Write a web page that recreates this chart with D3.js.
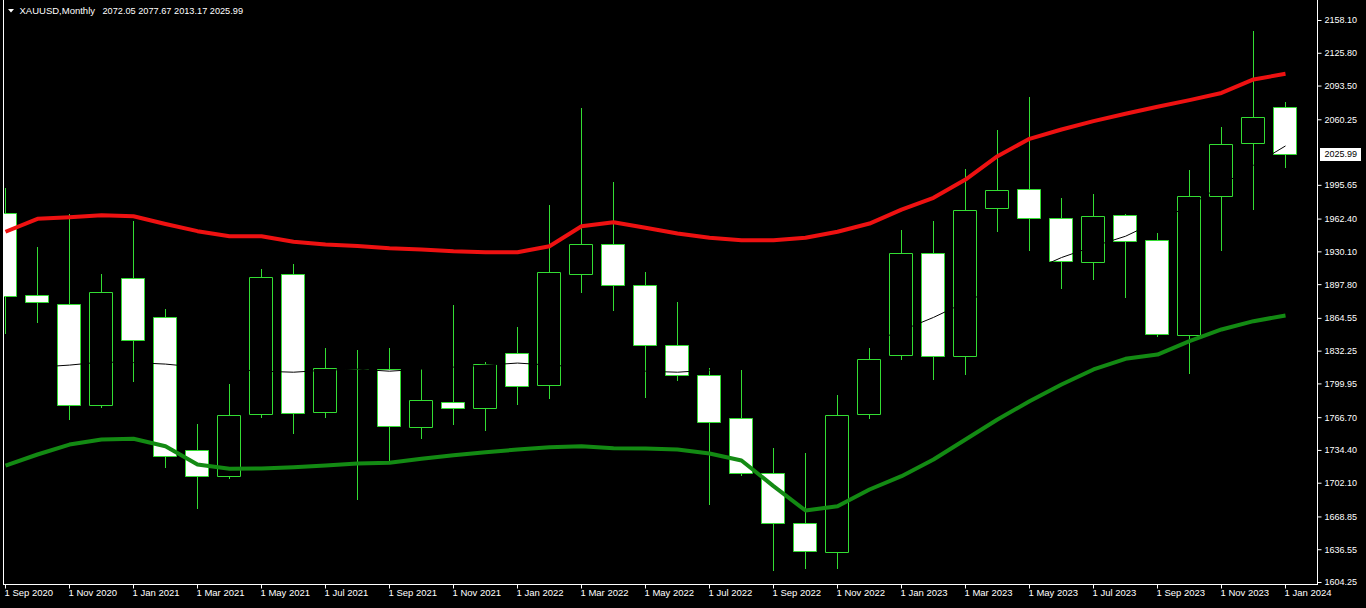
<!DOCTYPE html>
<html>
<head>
<meta charset="utf-8">
<script src="https://cdn.jsdelivr.net/npm/d3@7"></script>
<style>
html,body{margin:0;padding:0;background:#000;overflow:hidden;}
svg{display:block;}
</style>
</head>
<body>
<svg id="chart" width="1366" height="608"></svg>
<script>
// ---------- data ----------
const symbolTitle = "XAUUSD,Monthly";
const months = ["Sep 2020","Oct 2020","Nov 2020","Dec 2020","Jan 2021","Feb 2021","Mar 2021","Apr 2021","May 2021","Jun 2021","Jul 2021","Aug 2021","Sep 2021","Oct 2021","Nov 2021","Dec 2021","Jan 2022","Feb 2022","Mar 2022","Apr 2022","May 2022","Jun 2022","Jul 2022","Aug 2022","Sep 2022","Oct 2022","Nov 2022","Dec 2022","Jan 2023","Feb 2023","Mar 2023","Apr 2023","May 2023","Jun 2023","Jul 2023","Aug 2023","Sep 2023","Oct 2023","Nov 2023","Dec 2023","Jan 2024"];
const openP  = [1968.1,1886.6,1878.4,1778.2,1904.0,1865.6,1734.1,1709.2,1770.0,1908.0,1771.9,1814.3,1814.4,1757.2,1781.8,1775.9,1830.1,1798.6,1908.0,1937.5,1897.1,1838.0,1808.4,1766.1,1711.9,1662.6,1633.6,1770.3,1827.8,1928.7,1826.8,1973.0,1991.1,1963.2,1919.4,1966.1,1940.8,1847.5,1984.5,2037.1,2072.05];
const highP  = [1992.6,1934.2,1967.1,1907.3,1959.8,1872.8,1760.4,1798.9,1913.2,1917.2,1835.1,1832.4,1834.4,1814.4,1877.7,1821.3,1855.1,1975.3,2070.9,1998.6,1910.2,1880.0,1815.3,1813.6,1736.5,1731.0,1788.4,1835.1,1950.9,1960.5,2010.8,2049.5,2082.4,1982.2,1987.1,1966.5,1947.7,2009.8,2052.9,2147.7,2077.67];
const lowP   = [1849.8,1860.3,1765.1,1776.9,1802.1,1717.4,1677.4,1706.9,1766.7,1751.3,1766.7,1686.2,1723.3,1746.4,1759.5,1753.9,1780.1,1785.4,1890.5,1872.1,1786.8,1803.1,1681.6,1710.0,1615.9,1618.2,1618.2,1766.1,1824.2,1804.5,1809.7,1950.0,1931.9,1893.5,1902.4,1885.3,1846.7,1810.6,1931.9,1972.3,2013.17];
const closeP = [1886.5,1880.0,1778.2,1890.2,1843.2,1728.2,1709.2,1769.0,1905.0,1771.0,1815.3,1814.6,1757.8,1783.8,1775.9,1819.3,1797.9,1910.0,1937.5,1897.1,1838.0,1808.4,1762.1,1711.9,1662.6,1634.6,1769.3,1824.2,1928.7,1826.8,1971.3,1990.1,1963.2,1920.4,1965.1,1940.1,1848.8,1984.5,2036.1,2062.7,2025.99];
const upperLine = [1949.4,1962.2,1963.8,1965.7,1964.7,1957.1,1950.0,1945.0,1945.0,1939.5,1936.9,1935.4,1933.2,1931.9,1930.2,1929.3,1929.3,1935.2,1954.9,1958.8,1953.3,1947.7,1943.5,1941.1,1941.1,1943.5,1949.4,1957.5,1971.3,1982.9,2000.9,2023.9,2041.0,2050.2,2058.4,2065.7,2072.6,2079.1,2086.2,2099.5,2105.1];
const lowerLine = [1719.0,1729.9,1739.7,1744.7,1745.4,1738.1,1720.0,1715.8,1716.1,1717.4,1719.0,1721.0,1721.7,1725.7,1729.2,1732.2,1734.8,1737.1,1738.1,1736.1,1735.8,1734.8,1730.9,1724.0,1698.7,1674.7,1678.9,1695.4,1708.5,1725.0,1744.7,1764.4,1782.4,1798.9,1813.7,1824.2,1828.4,1841.6,1853.1,1861.3,1866.9];
const middleLine = [1822,1816,1818,1821,1820.5,1819,1816,1814,1812,1811,1813,1814,1812,1814,1816,1818,1820,1818,1816,1814,1812,1811,1813,1816,1820,1825,1832,1840,1852,1865,1880,1895,1910,1924,1935,1945,1960,1975,1995,2015,2034];
const priceTicks = [2158.10,2125.80,2093.50,2060.25,1995.65,1962.40,1930.10,1897.80,1864.55,1832.25,1799.95,1766.70,1734.40,1702.10,1668.85,1636.55,1604.25];
const timeTicks = ["Sep 2020","Nov 2020","Jan 2021","Mar 2021","May 2021","Jul 2021","Sep 2021","Nov 2021","Jan 2022","Mar 2022","May 2022","Jul 2022","Sep 2022","Nov 2022","Jan 2023","Mar 2023","May 2023","Jul 2023","Sep 2023","Nov 2023","Jan 2024"];
const lastPrice = 2025.99;

// ---------- setup ----------
const svg = d3.select("#chart");
const FONT = "Liberation Sans, Arial, sans-serif";
const candleGreen = "#33dd33";
const frameRight = 1317.5, frameBottom = 584.5, frameLeft = 3.5;

const x = d3.scalePoint().domain(months).range([5, 1285]);
const y = d3.scaleLinear().domain([1604.25, 2158.10]).range([582, 20]);
const fmt = d3.format(".2f");

svg.append("rect").attr("width",1366).attr("height",608).attr("fill","#000");

const defs = svg.append("defs");
defs.append("clipPath").attr("id","plotClip")
  .append("rect").attr("x",4).attr("y",0).attr("width",frameRight-4).attr("height",frameBottom);

const plot = svg.append("g").attr("clip-path","url(#plotClip)");

const bars = months.map((m,i)=>({m, o:openP[i], h:highP[i], l:lowP[i], c:closeP[i]}));

// wicks
plot.append("g").selectAll("path").data(bars).join("path")
  .attr("d", d => {
    const cx = Math.round(x(d.m)) + 0.5;
    return `M${cx},${Math.round(y(d.h))}V${Math.round(y(d.l))+1}`;
  })
  .attr("stroke", candleGreen).attr("stroke-width",1).attr("fill","none");

// bodies
plot.append("g").selectAll("path").data(bars).join("path")
  .attr("d", d => {
    const cx = Math.round(x(d.m));
    const yt = Math.round(y(Math.max(d.o,d.c))) + 0.5;
    const yb = Math.round(y(Math.min(d.o,d.c))) + 0.5;
    return `M${cx-11.5},${yt}H${cx+11.5}V${yb}H${cx-11.5}Z`;
  })
  .attr("fill", d => d.c >= d.o ? "#000" : "#fff")
  .attr("stroke", candleGreen).attr("stroke-width",1);

// lines
const lineGen = arr => d3.line()
  .x((v,i) => Math.round(x(months[i])) + 0.5)
  .y(v => y(v))(arr);

plot.append("path").attr("d", lineGen(middleLine))
  .attr("fill","none").attr("stroke","#000").attr("stroke-width",1);
plot.append("path").attr("d", lineGen(upperLine))
  .attr("fill","none").attr("stroke","#ee1111").attr("stroke-width",4)
  .attr("stroke-linejoin","round");
plot.append("path").attr("d", lineGen(lowerLine))
  .attr("fill","none").attr("stroke","#138a13").attr("stroke-width",4)
  .attr("stroke-linejoin","round");

// frame lines
svg.append("line").attr("x1",frameLeft).attr("x2",frameLeft).attr("y1",0).attr("y2",frameBottom).attr("stroke","#fff");
svg.append("line").attr("x1",frameRight).attr("x2",frameRight).attr("y1",0).attr("y2",frameBottom).attr("stroke","#fff");
svg.append("line").attr("x1",3).attr("x2",frameRight+0.5).attr("y1",frameBottom).attr("y2",frameBottom).attr("stroke","#fff");

// price axis
const gY = svg.append("g").attr("transform",`translate(${frameRight},0)`)
  .call(d3.axisRight(y).tickValues(priceTicks).tickFormat(fmt).tickSize(4).tickPadding(3).tickSizeOuter(0));
gY.select(".domain").remove();
gY.selectAll(".tick line").attr("stroke","#fff");
gY.selectAll(".tick text").attr("fill","#fff")
  .style("font-family",FONT).style("font-size","9px");

// time axis
const gX = svg.append("g").attr("transform",`translate(0,${frameBottom})`)
  .call(d3.axisBottom(x).tickValues(timeTicks).tickFormat(m => "1 " + m).tickSize(4).tickPadding(1).tickSizeOuter(0));
gX.select(".domain").remove();
gX.selectAll(".tick line").attr("stroke","#fff");
gX.selectAll(".tick text").attr("fill","#fff").attr("text-anchor","start").attr("x",-1)
  .style("font-family",FONT).style("font-size","9.5px");

// current price label
const yLast = Math.round(y(lastPrice));
svg.append("rect").attr("x",1320).attr("y",yLast-6).attr("width",41).attr("height",13).attr("fill","#fff");
svg.append("text").attr("x",1324.5).attr("y",yLast+0.5).attr("dy","0.32em")
  .attr("fill","#000").style("font-family",FONT).style("font-size","9px").text(fmt(lastPrice));

// header
svg.append("path").attr("d","M8,9L14,9L11,12.5Z").attr("fill","#fff");
svg.append("text").attr("x",19.5).attr("y",14).attr("fill","#fff")
  .style("font-family",FONT).style("font-size","9.5px").text(symbolTitle);
const n = months.length - 1;
svg.append("text").attr("x",102.5).attr("y",14).attr("fill","#fff")
  .style("font-family",FONT).style("font-size","9.2px")
  .text([openP[n],highP[n],lowP[n],closeP[n]].map(fmt).join(" "));
</script>
</body>
</html>
